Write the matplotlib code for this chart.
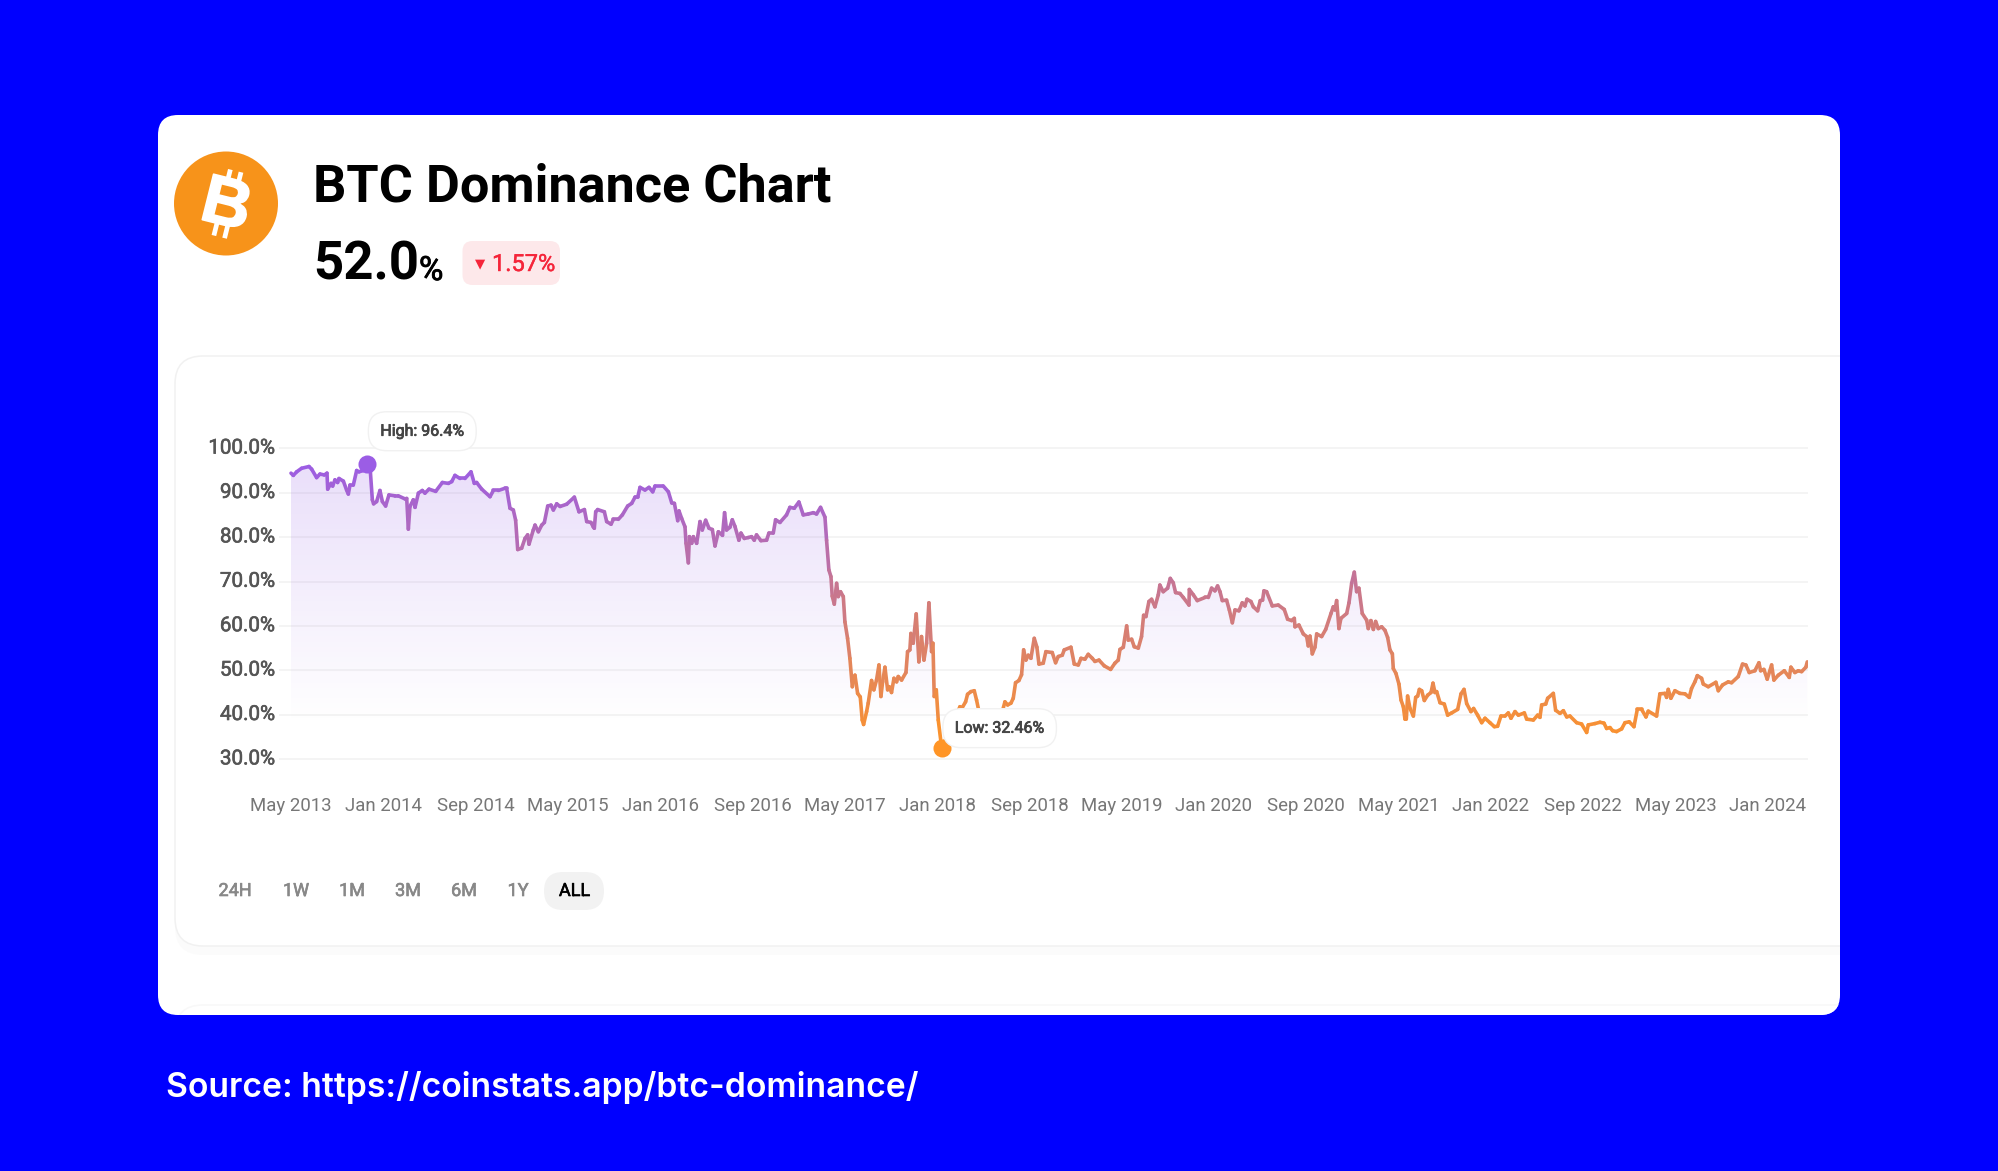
import numpy as np
import matplotlib
matplotlib.use("Agg")
import matplotlib.pyplot as plt
import matplotlib.patheffects as pe
from matplotlib.collections import LineCollection
from matplotlib.colors import LinearSegmentedColormap, Normalize
from matplotlib.patches import Circle, FancyBboxPatch
from matplotlib.transforms import ScaledTranslation

plt.rcParams['font.family'] = ['Roboto', 'DejaVu Sans']

# months after May 2013
months = [
    0.0, .20, .49, .92, 1.56, 1.79, 2.22, 2.51, 2.89, 3.12, 3.18, 3.47, 3.61, 3.81, 4.04, 4.16, 4.54, 4.82, 4.97, 5.11,
    5.40, 5.69, 5.89, 6.27, 6.60, 6.88, 7.05, 7.16, 7.42, 7.71, 7.92, 8.20, 8.49, 9.01, 9.30, 9.88, 10.03, 10.17, 10.31, 10.60,
    10.75, 11.04, 11.38, 11.61, 11.96, 12.54, 13.12, 13.64, 13.93, 14.21, 14.65, 15.08, 15.60, 15.89, 16.09, 16.53, 17.25, 17.54, 17.97, 18.55,
    18.69, 18.98, 19.27, 19.47, 19.65, 19.99, 20.28, 20.51, 20.63, 21.0, 21.15, 21.44, 21.73, 21.96, 22.25, 22.54, 22.74, 23.03, 23.32, 23.89,
    24.56, 24.96, 25.43, 25.63, 26.0, 26.2, 26.29, 26.41, 26.58, 27.16, 27.36, 27.74, 27.94, 28.37, 28.72, 29.18, 29.53, 29.82, 30.05, 30.25,
    30.68, 31.03, 31.35, 31.55, 32.27, 32.71, 33.0, 33.23, 33.52, 33.63, 33.86, 34.15, 34.24, 34.44, 34.53, 34.73, 34.87, 35.16, 35.45, 35.65,
    35.94, 36.23, 36.52, 36.75, 37.04, 37.4, 37.58, 37.75, 38.04, 38.25, 38.48, 38.82, 39.0, 39.29, 39.63, 39.92, 40.15, 40.35, 40.73, 41.22,
    41.42, 41.8, 42.0, 42.38, 42.95, 43.24, 43.62, 44.02, 44.4, 44.83, 45.27, 45.55, 45.9, 46.28, 46.42, 46.62, 46.8, 46.91, 47.09, 47.29,
    47.43, 47.63, 47.87, 48.01, 48.24, 48.44, 48.65, 48.88, 49.11, 49.34, 49.51, 49.63, 49.89, 50.03, 50.32, 50.52, 50.75, 50.96, 51.13, 51.28,
    51.48, 51.71, 51.85, 52.05, 52.26, 52.49, 52.63, 52.92, 53.3, 53.44, 53.64, 53.73, 53.93, 54.19, 54.42, 54.65, 54.86, 55.09, 55.29, 55.52,
    55.64, 55.75, 55.93, 56.1, 56.4, 57.0, 57.5, 57.98, 58.18, 58.47, 58.64, 58.93, 59.22, 59.42, 59.63, 60.0, 60.8, 61.4, 61.65, 61.88,
    62.11, 62.4, 62.6, 62.8, 63.09, 63.32, 63.5, 63.7, 63.9, 64.13, 64.42, 64.65, 64.83, 65.2, 65.43, 65.98, 66.27, 66.5, 66.85, 67.02,
    67.6, 67.89, 68.24, 68.47, 68.81, 69.1, 69.45, 69.68, 70.03, 70.49, 71.04, 71.41, 71.7, 71.85, 72.14, 72.43, 72.57, 72.86, 73.09, 73.44,
    73.72, 73.9, 74.1, 74.36, 74.59, 74.88, 75.17, 75.31, 75.6, 75.98, 76.21, 76.47, 76.67, 77.05, 77.34, 77.83, 77.86, 78.21, 78.55, 79.22,
    79.51, 79.79, 80.08, 80.31, 80.52, 80.72, 81.09, 81.33, 81.59, 81.82, 82.16, 82.45, 82.68, 82.86, 83.2, 83.41, 83.78, 84.01, 84.21, 84.33,
    84.56, 85.05, 85.57, 86.09, 86.38, 86.73, 86.96, 87.02, 87.36, 87.74, 88.03, 88.17, 88.32, 88.52, 88.75, 88.9, 89.33, 89.68, 90.14, 90.34,
    90.48, 90.63, 90.83, 91.0, 91.5, 91.7, 91.93, 92.16, 92.36, 92.56, 92.85, 93.23, 93.37, 93.6, 93.81, 94.01, 94.24, 94.53, 94.82, 95.05,
    95.25, 95.46, 95.54, 95.77, 96.03, 96.21, 96.41, 96.55, 96.67, 96.78, 96.99, 97.28, 97.48, 97.65, 97.8, 98.0, 98.23, 98.52, 98.81, 98.98,
    99.15, 99.3, 99.59, 99.96, 100.25, 100.6, 101.12, 101.41, 101.67, 101.9, 102.27, 102.5, 102.85, 103.2, 103.49, 103.92, 104.3, 104.58, 104.87, 105.22,
    105.51, 105.74, 106.09, 106.38, 106.9, 107.1, 107.68, 108.05, 108.25, 108.4, 108.75, 108.92, 109.41, 109.61, 109.99, 110.28, 110.57, 110.85, 111.43, 111.86,
    112.3, 112.44, 113.02, 113.45, 113.8, 114.03, 114.32, 114.55, 114.89, 115.33, 115.62, 115.99, 116.4, 116.69, 117.06, 117.44, 117.64, 118.36, 118.65, 119.08,
    119.23, 119.37, 119.6, 119.95, 120.38, 120.82, 121.19, 121.39, 121.68, 121.89, 122.26, 122.41, 122.84, 123.5, 123.71, 124.08, 124.57, 124.86, 125.44, 125.81,
    126.1, 126.39, 126.88, 127.23, 127.38, 127.66, 127.95, 128.33, 128.53, 128.91, 129.43, 129.86, 130.0, 130.35, 130.64, 130.93, 131.3, 131.42,
]
dominance = [
    94.4, 93.9, 94.7, 95.5, 95.9, 95.3, 93.4, 94.2, 94.0, 94.4, 90.8, 92.1, 91.5, 92.9, 92.3, 93.2, 92.6, 90.6, 89.7, 91.7,
    91.7, 95.0, 94.7, 95.0, 96.4, 94.7, 88.4, 87.5, 88.0, 90.5, 88.0, 87.0, 89.5, 89.3, 89.3, 88.6, 88.7, 81.8, 86.9, 88.4,
    86.7, 89.9, 90.5, 89.9, 90.8, 90.3, 92.3, 92.1, 92.5, 93.9, 93.2, 93.2, 94.7, 92.1, 92.3, 90.8, 89.1, 90.5, 90.5, 91.0,
    91.0, 86.5, 86.1, 83.8, 77.2, 77.5, 79.7, 80.5, 78.4, 81.6, 82.7, 81.2, 82.7, 83.3, 87.0, 87.2, 86.1, 87.5, 86.9, 87.4,
    89.0, 85.7, 86.2, 83.5, 83.3, 82.3, 82.0, 85.7, 86.2, 85.7, 83.5, 82.9, 84.0, 84.0, 85.0, 87.0, 87.6, 89.0, 89.0, 91.2,
    90.6, 91.2, 90.2, 91.5, 91.5, 90.2, 87.7, 87.6, 83.7, 85.9, 84.2, 82.3, 78.6, 74.2, 80.1, 78.6, 80.1, 78.6, 83.5, 81.6,
    83.8, 82.0, 81.7, 78.0, 81.2, 80.4, 85.5, 81.6, 82.2, 83.9, 82.4, 79.3, 80.9, 79.7, 79.9, 80.1, 79.3, 80.5, 79.2, 79.3,
    80.9, 80.9, 83.9, 83.3, 85.0, 86.7, 86.5, 87.9, 85.0, 85.2, 85.5, 85.2, 86.7, 84.5, 79.3, 72.6, 71.1, 66.7, 64.9, 69.6,
    66.6, 67.7, 66.6, 60.9, 57.2, 52.7, 46.3, 48.9, 44.8, 44.0, 38.8, 37.8, 40.7, 42.6, 47.7, 45.6, 47.8, 51.2, 44.1, 47.4,
    50.7, 45.6, 46.3, 45.0, 48.2, 47.4, 48.6, 47.8, 49.5, 54.2, 54.6, 58.3, 56.1, 62.7, 51.9, 57.6, 52.3, 56.1, 65.2, 54.2,
    56.1, 44.1, 45.6, 38.8, 32.46, 36.0, 39.0, 41.8, 41.6, 42.9, 44.6, 45.2, 45.4, 43.3, 40.7, 38.0, 37.0, 39.0, 40.7, 42.9,
    42.2, 42.6, 43.7, 47.2, 47.7, 49.0, 54.6, 52.3, 53.4, 52.7, 57.2, 55.2, 51.4, 51.6, 54.2, 54.0, 51.7, 53.1, 53.4, 54.6,
    55.2, 51.4, 51.2, 52.7, 52.5, 53.6, 52.7, 52.0, 52.3, 51.0, 50.2, 51.6, 52.3, 54.7, 55.2, 60.0, 56.8, 57.0, 55.3, 55.0,
    57.6, 62.4, 62.1, 65.5, 66.0, 64.3, 67.0, 69.2, 67.7, 68.5, 70.7, 69.7, 67.5, 67.3, 66.4, 64.7, 68.2, 67.0, 65.7, 66.4,
    66.4, 68.5, 67.9, 69.0, 67.7, 65.7, 65.8, 63.6, 60.7, 63.6, 63.4, 65.2, 64.5, 66.0, 65.5, 64.3, 63.4, 65.7, 65.8, 67.9,
    67.7, 64.5, 64.7, 63.7, 61.5, 61.2, 61.7, 59.8, 60.2, 58.2, 57.6, 55.5, 57.7, 53.7, 55.2, 58.2, 57.6, 59.2, 62.8, 64.3,
    63.6, 65.7, 59.4, 61.7, 62.8, 65.2, 69.6, 72.1, 67.7, 68.5, 62.8, 61.3, 59.4, 61.2, 59.2, 61.0, 59.4, 59.8, 59.0, 57.4,
    54.6, 53.7, 50.4, 49.3, 46.9, 43.3, 41.8, 39.0, 39.0, 44.2, 41.4, 39.7, 43.9, 44.2, 45.7, 45.4, 43.2, 44.4, 45.0, 47.1,
    45.0, 45.2, 42.7, 42.4, 39.9, 40.4, 41.2, 44.7, 45.7, 42.5, 40.7, 41.4, 39.9, 38.2, 39.2, 38.2, 37.3, 37.4, 39.7, 39.7,
    40.4, 39.2, 40.7, 39.9, 40.4, 39.0, 38.8, 39.9, 39.4, 42.2, 42.4, 43.7, 44.8, 41.0, 40.3, 40.9, 39.5, 39.7, 38.2, 37.9,
    36.0, 37.7, 38.0, 38.3, 38.1, 36.9, 37.1, 36.4, 36.2, 36.8, 38.2, 38.4, 37.3, 41.2, 41.2, 39.5, 40.8, 39.7, 44.7, 44.8,
    43.9, 45.7, 43.7, 45.4, 44.8, 44.7, 43.9, 45.9, 47.4, 48.8, 48.2, 46.9, 46.3, 47.3, 45.4, 46.7, 47.4, 47.2, 48.6, 51.4,
    51.2, 49.5, 49.9, 51.7, 49.9, 50.2, 48.0, 51.2, 47.8, 48.9, 49.9, 48.4, 50.7, 49.5, 49.9, 49.7, 50.7, 51.9,
]

y_ticks = [30, 40, 50, 60, 70, 80, 90, 100]
x_ticks = [0, 8, 16, 24, 32, 40, 48, 56, 64, 72, 80, 88, 96, 104, 112, 120, 128]
x_labels = ['May 2013', 'Jan 2014', 'Sep 2014', 'May 2015', 'Jan 2016', 'Sep 2016', 'May 2017', 'Jan 2018',
            'Sep 2018', 'May 2019', 'Jan 2020', 'Sep 2020', 'May 2021', 'Jan 2022', 'Sep 2022', 'May 2023', 'Jan 2024']
ranges = ['24H', '1W', '1M', '3M', '6M', '1Y', 'ALL']
range_x = [235, 296, 352, 408, 464, 518, 574.5]

W, H = 1999, 1171
fig = plt.figure(figsize=(W / 100, H / 100), dpi=100, facecolor='#0000ff')

# page furniture, in pixel coordinates
bg = fig.add_axes([0, 0, 1, 1])
bg.set_xlim(0, W)
bg.set_ylim(H, 0)
bg.axis('off')


def rounded(x0, y0, x1, y1, r, **kw):
    p = FancyBboxPatch((x0 + r, y0 + r), x1 - x0 - 2 * r, y1 - y0 - 2 * r,
                       boxstyle='round,pad=%g,rounding_size=%g' % (r, r), **kw)
    bg.add_patch(p)
    return p


# Roboto here has no medium cut, a thin stroke stands in for it
def heavier(color, w=0.45):
    return [pe.withStroke(linewidth=w, foreground=color)]


card = rounded(158, 115, 1840, 1015, 20, fc='white', ec='none')
for x0, y0, x1, y1, r, fc, ec in [(175, 362, 1900, 955, 28, '#fbfbfb', 'none'),
                                  (175, 356, 1900, 946, 28, 'white', '#f1f1f1'),
                                  (175, 1005, 1900, 1300, 28, 'white', '#f8f8f8')]:
    p = rounded(x0, y0, x1, y1, r, fc=fc, ec=ec, lw=1.1)
    p.set_clip_path(card)

# coin logo
bg.add_patch(Circle((226, 203.5), 52, fc='#f7931a', ec='none'))
bg.text(226, 207, 'B', color='white', fontsize=49, fontweight='bold', rotation=-14,
        ha='center', va='center', family=['Liberation Sans', 'DejaVu Sans'],
        path_effects=heavier('white', 1.2))
tilt = np.deg2rad(14)
for dx in (-4, 7):
    for a, b in ((-34, -20), (20, 34)):
        bg.plot([226 + dx * np.cos(tilt) - a * np.sin(tilt), 226 + dx * np.cos(tilt) - b * np.sin(tilt)],
                [203.5 + dx * np.sin(tilt) + a * np.cos(tilt), 203.5 + dx * np.sin(tilt) + b * np.cos(tilt)],
                color='white', lw=3.4, solid_capstyle='butt')

bg.text(313, 201.5, 'BTC Dominance Chart', fontsize=37.6, fontweight='bold', color='black', va='baseline')
bg.text(313, 280, '52.0', fontsize=38, fontweight='bold', color='black', va='baseline')
bg.text(419, 280, '%', fontsize=24, color='black', va='baseline', path_effects=heavier('black', 0.6))

rounded(462.5, 241, 560, 285, 10, fc='#fde8ea', ec='none')
bg.text(480, 264, '\u25bc', fontsize=9.5, color='#f5253a', ha='center', va='center', family='DejaVu Sans')
bg.text(492, 271, '1.57%', fontsize=17, color='#f5253a', va='baseline', path_effects=heavier('#f5253a', 0.3))

# range buttons
rounded(544, 872, 604, 910, 19, fc='#f2f2f2', ec='none')
for lab, x in zip(ranges, range_x):
    c = 'black' if lab == 'ALL' else '#888888'
    bg.text(x, 891, lab, fontsize=13, ha='center', va='center', color=c, path_effects=heavier(c))

bg.text(166, 1097, 'Source: https://coinstats.app/btc-dominance/', fontsize=24.25, color='white',
        fontweight='semibold', va='baseline', family=['Inter', 'DejaVu Sans'])

# chart area: gridlines run from 279 to 1808 px, 100% at 448.3 px, 30% at 759 px
left, right, top, bottom = 279, 1808, 430, 775
ax = fig.add_axes([left / W, 1 - bottom / H, (right - left) / W, (bottom - top) / H])
ax.patch.set_alpha(0)
px_month = 92.3 / 8
px_pct = 4.44
ax.set_xlim((left - 291) / px_month, (right - 291) / px_month)
ax.set_ylim(100 - (bottom - 448.3) / px_pct, 100 + (448.3 - top) / px_pct)
for s in ax.spines.values():
    s.set_visible(False)

ax.set_yticks(y_ticks)
ax.set_yticklabels(['%.1f%%' % v for v in y_ticks], fontsize=14.8, color='#555555')
ax.set_xticks(x_ticks)
ax.set_xticklabels(x_labels, fontsize=13.4, color='#777777')
ax.tick_params(length=0)
ax.tick_params(axis='y', pad=3)
ax.tick_params(axis='x', pad=15.5)
ax.grid(axis='y', color='#f1f1f1', lw=1.1)
ax.set_axisbelow(True)

# y labels sit a little above their gridlines; tick_params resets transforms so do this after it
nudge = ScaledTranslation(0, 2.2 / 100, fig.dpi_scale_trans)
for t in ax.get_yticklabels():
    t.set_path_effects(heavier('#555555'))
    t.set_transform(t.get_transform() + nudge)

x = np.array(months)
y = np.array(dominance)

# gradient under the line
shape = ax.fill_between(x, y, 30, color='none', lw=0)
grad = np.zeros((256, 1, 4))
grad[..., :3] = (0.58, 0.36, 0.90)
grad[..., 3] = np.linspace(0.20, 0, 256)[:, None]
xlim, ylim = ax.get_xlim(), ax.get_ylim()
im = ax.imshow(grad, extent=[x[0], x[-1], 38, 97], origin='upper', aspect='auto', zorder=1)
im.set_clip_path(shape.get_paths()[0], transform=ax.transData)
ax.set_xlim(xlim)
ax.set_ylim(ylim)

# line colour follows the value, orange at the low and purple at the high
cmap = LinearSegmentedColormap.from_list('btc', ['#ff9526', '#9b5de5'])
pts = np.column_stack([x, y])
segs = np.stack([pts[:-1], pts[1:]], axis=1)
lc = LineCollection(segs, cmap=cmap, norm=Normalize(y.min(), y.max()), linewidths=2.6,
                    capstyle='round', joinstyle='round', zorder=3)
lc.set_array((y[:-1] + y[1:]) / 2)
ax.add_collection(lc)

hi, lo = y.argmax(), y.argmin()
ax.plot(x[hi], y[hi], 'o', ms=13, color='#9b5de5', mec='none', zorder=4, clip_on=False)
ax.plot(x[lo], y[lo], 'o', ms=13, color='#ff9526', mec='none', zorder=4, clip_on=False)

bubble = dict(boxstyle='round,pad=0.75,rounding_size=1.15', fc='white', ec='#f1f1f1', lw=1.0)
for label, i, off in [('High: %.1f%%' % y[hi], hi, (39.7, 23.8)), ('Low: %.2f%%' % y[lo], lo, (41.7, 14.4))]:
    ax.annotate(label, (x[i], y[i]), xytext=off, textcoords='offset points', fontsize=11.5,
                color='#444444', ha='center', va='center', bbox=bubble, zorder=5,
                path_effects=heavier('#444444', 0.55))

fig.savefig('out.png', dpi=100, facecolor=fig.get_facecolor())
